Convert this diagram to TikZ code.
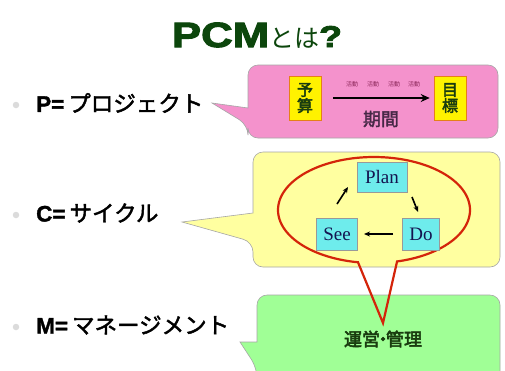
\documentclass[tikz,border=0pt]{standalone}
\usepackage{fontspec}
\usetikzlibrary{arrows.meta,calc}
\setmainfont{Liberation Serif}
\newfontfamily\latb[FakeBold=1.5]{Liberation Sans}
\newfontfamily\titlelat[FakeStretch=1.25,FakeBold=3]{Liberation Sans}
\newfontfamily\jp{Noto Sans CJK JP}
\newfontfamily\jpm[FakeBold=2]{Noto Sans CJK JP}
\newfontfamily\jpb[FakeBold=3]{Noto Sans CJK JP}
\definecolor{pinkc}{RGB}{244,146,204}
\definecolor{yelc}{RGB}{255,255,160}
\definecolor{grnc}{RGB}{160,255,150}
\definecolor{cyanc}{RGB}{110,236,236}
\definecolor{redc}{RGB}{212,36,10}
\definecolor{titlec}{RGB}{12,70,12}
\definecolor{dgreen}{RGB}{25,60,15}
\definecolor{navy}{RGB}{20,20,80}
\tikzset{
  callbox/.style={draw=gray!70, line width=0.6pt},
  bulletdot/.style={circle, fill=gray!28, inner sep=0pt, minimum size=6.5pt},
  btext/.style={anchor=west, inner sep=0pt, font=\fontsize{22.5}{24}\selectfont},
  ybox/.style={fill=yellow, draw=orange!60!brown, line width=0.6pt, minimum width=32pt, minimum height=44pt, inner sep=1pt, align=center, text=dgreen, font=\jpb\fontsize{16}{17}\selectfont},
  cbox/.style={fill=cyanc, draw=gray!80, line width=0.6pt, inner sep=1pt, text=navy, font=\fontsize{19}{20}\selectfont},
  cyc/.style={line width=1.6pt, -{Stealth[length=6pt,width=5pt]}},
  tinyact/.style={inner sep=0pt, text={rgb,255:red,140;green,40;blue,90}, font=\jp\fontsize{6}{6}\selectfont},
}
\begin{document}
\begin{tikzpicture}[x=1pt,y=-1pt]
\useasboundingbox (0,0) rectangle (505,370);
\fill[white] (0,0) rectangle (505,370);

% title
\node[anchor=base, inner sep=0pt, text=titlec] (title) at (257,47)
  {{\titlelat\bfseries\fontsize{35}{36}\selectfont PCM}{\jp\fontsize{25}{26}\selectfont とは}{\titlelat\bfseries\fontsize{30}{32}\selectfont ?}};

% callout boxes
\draw[callbox, fill=pinkc, rounded corners=10pt] (248,108) -- (248,65) -- (498,65) -- (498,138) -- (248,138) -- (248,125) [sharp corners] -- (212,103) -- cycle;
\draw[callbox, fill=yelc, rounded corners=10pt] (253,213) -- (253,152) -- (500,152) -- (500,267) -- (253,267) -- (253,242) [sharp corners] -- (182,222) -- cycle;
\draw[callbox, fill=grnc, rounded corners=10pt] (257,342) -- (257,295) -- (500,295) -- (500,392) -- (257,392) -- (257,368) [sharp corners] -- (240,342) -- cycle;

% bullets
\node[bulletdot] (d1) at (16,105) {};
\node[bulletdot] (d2) at (16,215) {};
\node[bulletdot] (d3) at (16,327) {};
\node[btext] (tp) at (36,103) {{\latb\bfseries P=}\hspace{4pt}{\jpm プロジェクト}};
\node[btext] (tc) at (36,213) {{\latb\bfseries C=}\hspace{4pt}{\jpm サイクル}};
\node[btext] (tm) at (36,325) {{\latb\bfseries M=}\hspace{4pt}{\jpm マネージメント}};

% pink content
\node[ybox] (yosan) at (305,98) {予\\[-1pt]算};
\node[ybox] (mokuhyo) at (450,98) {目\\[-1pt]標};
\draw[line width=2.4pt, -{Stealth[length=9pt,width=8pt]}, shorten <=12pt, shorten >=4pt] (yosan) -- (mokuhyo);
\node[inner sep=0pt, text={rgb,255:red,70;green,40;blue,70}, font=\jpm\fontsize{18}{18}\selectfont] (kikan) at (381,119) {期間};
\node[tinyact] (a1) at (352,84) {活動};
\node[tinyact] (a2) at (373,84) {活動};
\node[tinyact] (a3) at (394,84) {活動};
\node[tinyact] (a4) at (414,84) {活動};

% red ellipse bubble
\draw[redc, line width=2.2pt, line join=miter] plot[domain=99.6:436.1, samples=140] ({374+96*cos(\x)},{210+53*sin(\x)}) -- (383,323) -- cycle;

% cycle boxes
\node[cbox, minimum width=50pt, minimum height=30pt] (plan) at (382,177) {Plan};
\node[cbox, minimum width=41pt, minimum height=32pt] (see) at (337,234) {See};
\node[cbox, minimum width=37pt, minimum height=32pt] (do) at (421,234) {Do};
\coordinate (sp1) at (337,204); \coordinate (sp2) at (348,187);
\coordinate (pd1) at (412,197); \coordinate (pd2) at (418,212);
\coordinate (ds1) at (393,234); \coordinate (ds2) at (364,234);
\draw[cyc] (sp1) -- (sp2);
\draw[cyc] (pd1) -- (pd2);
\draw[cyc] (ds1) -- (ds2);

% green content
\node[inner sep=0pt, text=dgreen, font=\jpb\fontsize{18}{18}\selectfont] (unei) at (383,339) {運営\hspace{-6pt}・\hspace{-6pt}管理};
\end{tikzpicture}
\end{document}
